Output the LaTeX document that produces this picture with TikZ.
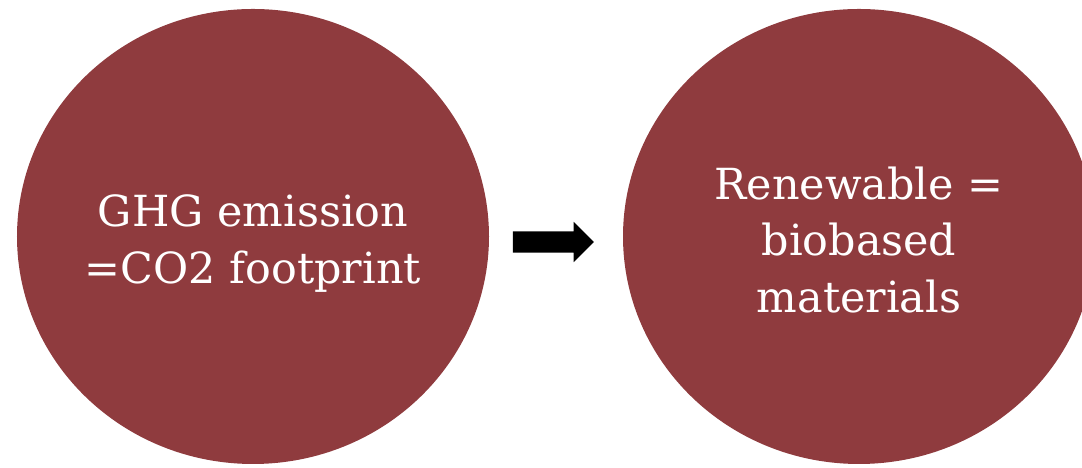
\documentclass[tikz,border=0pt]{standalone}
\usepackage{fontspec}
\setmainfont{DejaVu Serif}
\usetikzlibrary{shapes.geometric,shapes.arrows,calc}
\definecolor{bubblered}{RGB}{143,59,62}
\begin{document}
\begin{tikzpicture}[
  bubble/.style={ellipse, fill=bubblered, inner sep=0pt, minimum width=4.72cm, minimum height=4.55cm},
  bubbletext/.style={text=white, align=center, inner sep=0pt, font=\fontsize{12.2}{16.2}\selectfont},
  blockarrow/.style={single arrow, fill=black, inner sep=0pt, inner ysep=0.1cm, minimum height=0.81cm,
    single arrow head extend=0.095cm}]
\useasboundingbox (0,0) rectangle (10.82,4.68);
\clip (0,0) rectangle (10.82,4.68);
\node[bubble] (ghg) at (2.53,2.315) {};
\node[bubble] (renew) at (8.59,2.315) {};
\node[bubbletext, yshift=-0.07cm] (ghgtext) at (ghg) {GHG emission\\=CO2 footprint};
\node[bubbletext, yshift=-0.035cm] (renewtext) at (renew) {Renewable =\\biobased\\materials};
\node[blockarrow, xshift=-0.08cm, yshift=-0.055cm] (step1) at ($(ghg.east)!0.5!(renew.west)$) {};
\end{tikzpicture}
\end{document}
